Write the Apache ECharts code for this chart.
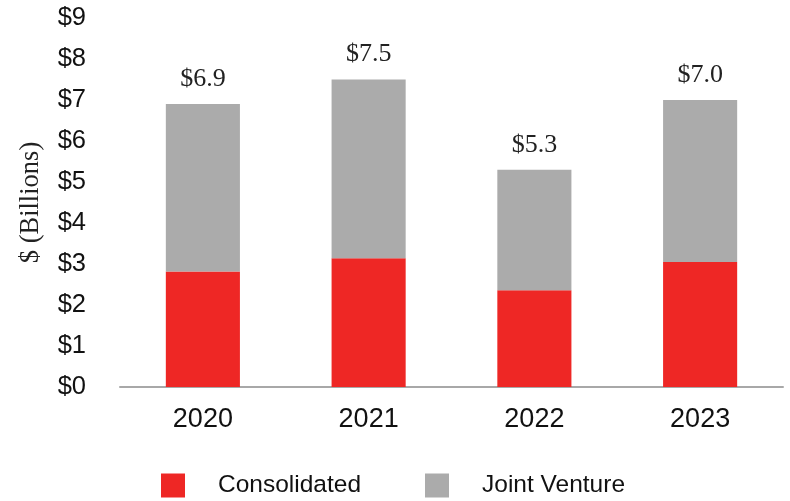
<!DOCTYPE html>
<html>
<head>
<meta charset="utf-8">
<script src="https://cdn.jsdelivr.net/npm/echarts@6/dist/echarts.min.js"></script>
<style>
  html, body { margin: 0; padding: 0; background: #fff; }
  #chart { width: 790px; height: 501px; }
</style>
</head>
<body>
<div id="chart"></div>
<script>
// Annual volume by ownership type, $ billions
const years = ['2020', '2021', '2022', '2023'];
const totals = [6.9, 7.5, 5.3, 7.0];
const consolidated = [2.82, 3.14, 2.36, 3.05];
const yTicks = [0, 1, 2, 3, 4, 5, 6, 7, 8, 9];

// Joint venture portion is the remainder of each year's total
const jointVenture = totals.map((t, i) => +(t - consolidated[i]).toFixed(2));

const sans = '"Liberation Sans", Arial, sans-serif';
const serif = '"Liberation Serif", "Times New Roman", serif';

const chart = echarts.init(document.getElementById('chart'), null, { renderer: 'canvas' });
chart.setOption({
  animation: false,
  backgroundColor: '#ffffff',
  grid: { left: 120, right: 7, top: 18, bottom: 114, containLabel: false },
  legend: {
    left: 156,
    top: 468,
    itemWidth: 24,
    itemHeight: 24,
    itemGap: 64,
    icon: 'rect',
    textStyle: { fontFamily: sans, fontSize: 24.5, color: '#111', padding: [0, 0, 0, 28] },
    data: ['Consolidated', 'Joint Venture']
  },
  xAxis: {
    type: 'category',
    data: years,
    axisLine: { show: true, lineStyle: { color: '#a8a8a8', width: 2 } },
    axisTick: { show: false },
    axisLabel: { fontFamily: sans, fontSize: 27, color: '#111', margin: 19 }
  },
  yAxis: {
    type: 'value',
    min: yTicks[0],
    max: yTicks[yTicks.length - 1],
    interval: 1,
    name: '$ (Billions)',
    nameLocation: 'middle',
    nameRotate: 90,
    nameGap: 75,
    nameTextStyle: { fontFamily: serif, fontSize: 26.5, color: '#222' },
    axisLine: { show: false },
    axisTick: { show: false },
    splitLine: { show: false },
    axisLabel: {
      fontFamily: sans, fontSize: 25.5, color: '#111', margin: 34,
      formatter: v => '$' + v
    }
  },
  series: [
    {
      name: 'Consolidated',
      type: 'bar',
      stack: 'total',
      barWidth: '44.7%',
      itemStyle: { color: '#ee2725' },
      data: consolidated
    },
    {
      name: 'Joint Venture',
      type: 'bar',
      stack: 'total',
      itemStyle: { color: '#ababab' },
      label: {
        show: true,
        position: 'top',
        distance: 12,
        fontFamily: serif,
        fontSize: 26,
        color: '#222',
        formatter: p => '$' + totals[p.dataIndex].toFixed(1)
      },
      data: jointVenture
    }
  ]
});
</script>
</body>
</html>
